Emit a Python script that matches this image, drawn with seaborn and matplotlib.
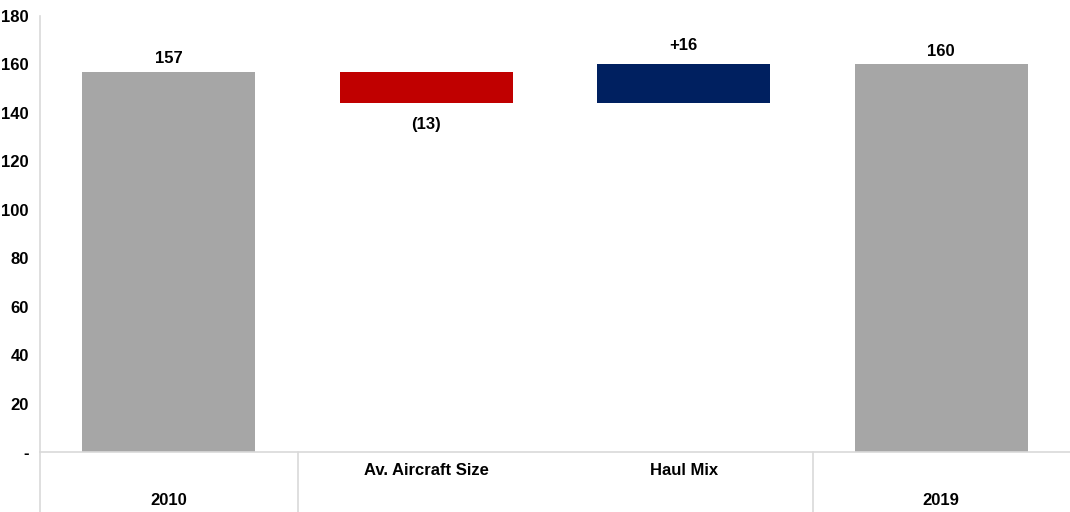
import matplotlib
matplotlib.use("Agg")
import matplotlib.pyplot as plt
import matplotlib.transforms as mtransforms
import seaborn as sns
import pandas as pd

# Waterfall: starting total, two drivers, ending total
categories = ["2010", "Av. Aircraft Size", "Haul Mix", "2019"]
values = [157, -13, 16, 160]
kinds = ["total", "delta", "delta", "total"]
value_labels = ["157", "(13)", "+16", "160"]
upper_labels = ["", "Av. Aircraft Size", "Haul Mix", ""]
lower_labels = ["2010", "", "", "2019"]
y_ticks = [0, 20, 40, 60, 80, 100, 120, 140, 160, 180]
y_tick_labels = ["-", "20", "40", "60", "80", "100", "120", "140", "160", "180"]

GREY = "#A6A6A6"
RED = "#C00000"
NAVY = "#002060"
AXIS = "#D9D9D9"
FS = 12

# Running cumulative bases and tops of each bar
bases, tops = [], []
running = 0
for v, k in zip(values, kinds):
    if k == "total":
        bases.append(0)
        tops.append(v)
        running = v
    else:
        start = running
        running = running + v
        bases.append(min(start, running))
        tops.append(max(start, running))

colors = []
for v, k in zip(values, kinds):
    if k == "total":
        colors.append(GREY)
    else:
        colors.append(NAVY if v > 0 else RED)

df = pd.DataFrame({"category": categories, "top": tops, "base": bases})

sns.set_theme(style="white")
plt.rcParams["font.family"] = ["Liberation Sans", "DejaVu Sans"]
plt.rcParams["text.color"] = "black"

fig = plt.figure(figsize=(10.7, 5.12), dpi=100)
ax = fig.add_axes([40 / 1070, 1 - 452 / 512, 1 - 40 / 1070, (452 - 16) / 512])

sns.barplot(data=df, x="category", y="top", hue="category",
            palette=dict(zip(categories, colors)), order=categories,
            hue_order=categories, legend=False, width=0.67,
            saturation=1, linewidth=0, ax=ax)

# Lift each bar so it spans from its base to its top
for i, (base, top) in enumerate(zip(bases, tops)):
    for patch in ax.patches:
        cx = patch.get_x() + patch.get_width() / 2
        if abs(cx - i) < 1e-6:
            patch.set_y(base)
            patch.set_height(top - base)

ax.set_xlim(-0.5, len(categories) - 0.5)
ax.set_ylim(0, 180)
ax.set_yticks(y_ticks)
ax.set_yticklabels(y_tick_labels, fontsize=FS, fontweight="bold", color="black")
ax.tick_params(axis="y", length=0, pad=8)
ax.tick_params(axis="x", length=0)
ax.set_xticks(range(len(categories)))
ax.set_xticklabels([""] * len(categories))
ax.set_xlabel("")
ax.set_ylabel("")

for side in ["top", "right"]:
    ax.spines[side].set_visible(False)
ax.spines["left"].set_color(AXIS)
ax.spines["bottom"].set_color(AXIS)
ax.spines["left"].set_linewidth(1.2)
ax.spines["bottom"].set_linewidth(1.2)

# Value labels
for i, (lab, v, k, base, top) in enumerate(zip(value_labels, values, kinds, bases, tops)):
    if k == "total":
        ax.annotate(lab, (i, top), xytext=(0, 4), textcoords="offset points",
                    ha="center", va="bottom", fontsize=FS, fontweight="bold",
                    color="black")
    elif v > 0:
        ax.annotate(lab, (i, top), xytext=(0, 8), textcoords="offset points",
                    ha="center", va="bottom", fontsize=FS, fontweight="bold",
                    color="black")
    else:
        ax.annotate(lab, (i, base), xytext=(0, -10), textcoords="offset points",
                    ha="center", va="top", fontsize=FS, fontweight="bold",
                    color="black")

# Two-level category axis
trans = mtransforms.blended_transform_factory(ax.transData, ax.transAxes)
for i, (up, low) in enumerate(zip(upper_labels, lower_labels)):
    if up:
        ax.text(i, -0.043, up, transform=trans, ha="center", va="center",
                fontsize=FS, fontweight="bold", color="black")
    if low:
        ax.text(i, -0.112, low, transform=trans, ha="center", va="center",
                fontsize=FS, fontweight="bold", color="black")

# Group separators below the axis
bottom_frac = -(512 - 452) / (452 - 16)
for xs in [-0.5, 0.5, 2.5]:
    ax.plot([xs, xs], [0, bottom_frac], transform=trans, color=AXIS,
            linewidth=1.2, clip_on=False)

fig.savefig("out.png", dpi=100)
